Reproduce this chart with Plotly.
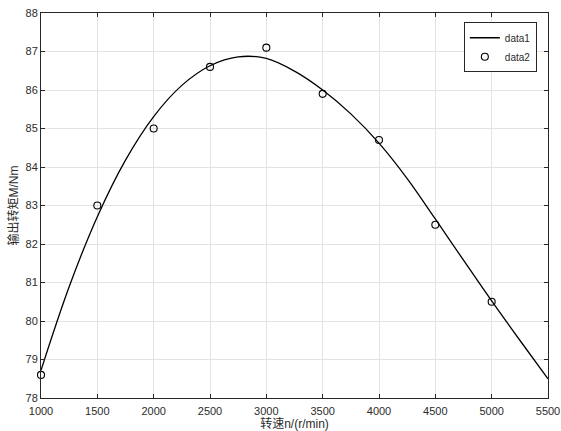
import plotly.graph_objects as go

# measured data points (data2)
speed_pts = [1000, 1500, 2000, 2500, 3000, 3500, 4000, 4500, 5000]
torque_pts = [78.6, 83.0, 85.0, 86.6, 87.1, 85.9, 84.7, 82.5, 80.5]

# fitted curve (data1)
speed_fit = [1000, 1250, 1500, 1750, 2000, 2250, 2500, 2750, 3000, 3250,
             3500, 3750, 4000, 4250, 4500, 4750, 5000, 5250, 5500]
torque_fit = [78.72, 80.89, 82.71, 84.18, 85.31, 86.12, 86.63, 86.86, 86.82, 86.49,
              86.0, 85.38, 84.62, 83.7, 82.65, 81.58, 80.52, 79.5, 78.5]

x_ticks = [1000, 1500, 2000, 2500, 3000, 3500, 4000, 4500, 5000, 5500]
y_ticks = [78, 79, 80, 81, 82, 83, 84, 85, 86, 87, 88]

FONT = "Liberation Sans, Arial, Noto Sans CJK SC, sans-serif"
AX = "#262626"
TXT = "#2b2b2b"

fig = go.Figure()
fig.add_trace(go.Scatter(
    x=speed_fit, y=torque_fit, mode="lines", name="data1",
    line=dict(color="black", width=1.3, shape="spline", smoothing=1.0),
))
fig.add_trace(go.Scatter(
    x=speed_pts, y=torque_pts, mode="markers", name="data2",
    marker=dict(symbol="circle-open", size=7, color="black",
                line=dict(width=1.1, color="black")),
    cliponaxis=False,
))

axis_common = dict(
    showline=True, linecolor=AX, linewidth=1, mirror="ticks",
    ticks="inside", ticklen=4, tickcolor=AX, tickwidth=1,
    showgrid=True, gridcolor="#e3e3e3", gridwidth=1,
    zeroline=False, automargin=False,
    tickfont=dict(family=FONT, size=11, color=TXT),
)

fig.update_layout(
    width=561, height=431,
    margin=dict(l=41, r=13, t=13, b=33),
    paper_bgcolor="white", plot_bgcolor="white",
    font=dict(family=FONT, color=TXT),
    xaxis=dict(range=[1000, 5500], tickvals=x_ticks,
               ticktext=[str(v) for v in x_ticks],
               ticklabelstandoff=3,
               title=dict(text="转速n/(r/min)", standoff=3,
                          font=dict(family=FONT, size=12, color=TXT)),
               **axis_common),
    yaxis=dict(range=[78, 88], tickvals=y_ticks,
               ticktext=[str(v) for v in y_ticks],
               title=dict(text="输出转矩M/Nm", standoff=4,
                          font=dict(family=FONT, size=12, color=TXT)),
               **axis_common),
    legend=dict(x=0.978, y=0.976, xanchor="right", yanchor="top",
                bgcolor="white", bordercolor=AX, borderwidth=1,
                font=dict(family=FONT, size=10, color=TXT),
                itemwidth=30, tracegroupgap=0),
    showlegend=True,
)

fig.write_html("out.html")
